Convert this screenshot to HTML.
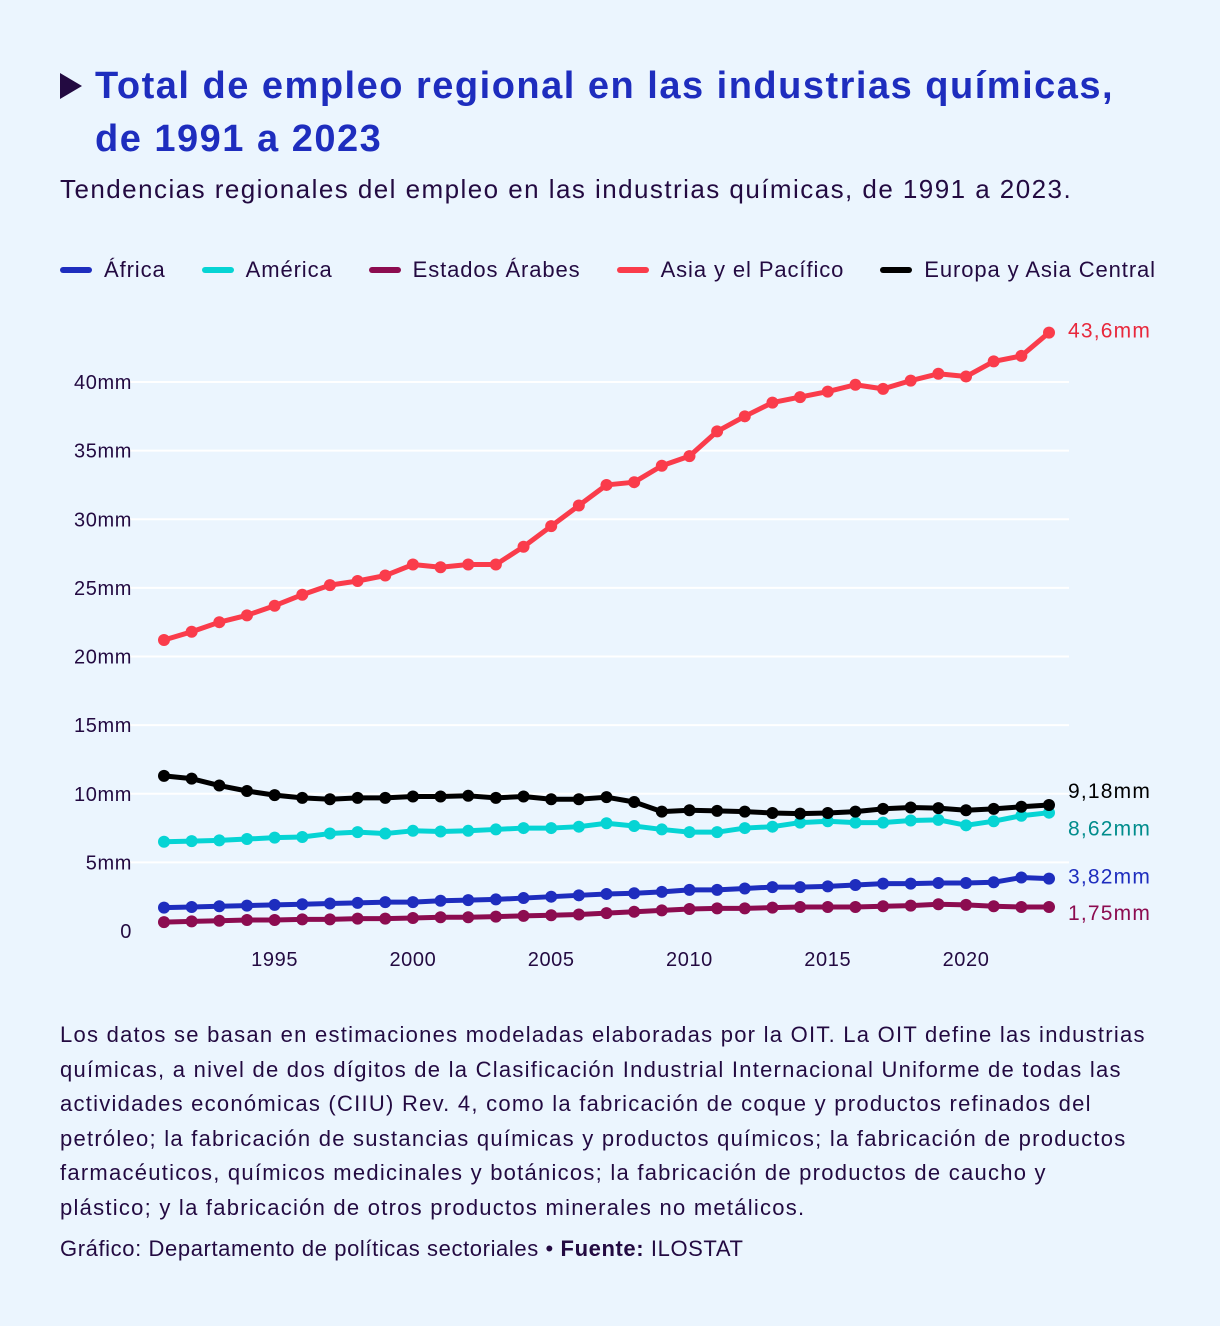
<!DOCTYPE html>
<html><head><meta charset="utf-8">
<style>
body{margin:0;background:#ebf5fe;font-family:"Liberation Sans","DejaVu Sans",sans-serif;color:#230a41;}
#wrap{position:relative;width:1220px;height:1326px;overflow:hidden;}
h1{position:absolute;left:95px;top:60px;margin:0;font-size:38px;line-height:53px;color:#1e2dbe;font-weight:bold;white-space:nowrap;letter-spacing:1.5px;}
.tri{position:absolute;left:60px;top:73px;width:0;height:0;border-top:13px solid transparent;border-bottom:13px solid transparent;border-left:22px solid #230a41;}
.sub{position:absolute;left:60px;top:174px;font-size:26px;letter-spacing:1.45px;white-space:nowrap;}
.legend{position:absolute;top:257px;left:60px;font-size:22px;display:flex;letter-spacing:0.9px;white-space:nowrap;}
.legend span{display:flex;align-items:center;margin-right:36px;}
.legend i{display:inline-block;width:32px;height:6px;border-radius:3px;margin-right:12px;}
.note{position:absolute;left:60px;top:1018px;font-size:22px;line-height:34.5px;letter-spacing:1.25px;white-space:nowrap;}
.src{position:absolute;left:60px;top:1236px;font-size:22px;letter-spacing:0.6px;white-space:nowrap;}
</style></head><body>
<div id="wrap">
<div class="tri"></div>
<h1>Total de empleo regional en las industrias químicas,<br>de 1991 a 2023</h1>
<div class="sub">Tendencias regionales del empleo en las industrias químicas, de 1991 a 2023.</div>
<div class="legend">
<span><i style="background:#1e2dbe"></i>África</span>
<span><i style="background:#06d4d4"></i>América</span>
<span><i style="background:#8c0c50"></i>Estados Árabes</span>
<span><i style="background:#fa3c4b"></i>Asia y el Pacífico</span>
<span><i style="background:#000"></i>Europa y Asia Central</span>
</div>
<svg id="chart" width="1220" height="1000" style="position:absolute;left:0;top:0"></svg>
<div class="note">Los datos se basan en estimaciones modeladas elaboradas por la OIT. La OIT define las industrias<br>químicas, a nivel de dos dígitos de la Clasificación Industrial Internacional Uniforme de todas las<br>actividades económicas (CIIU) Rev. 4, como la fabricación de coque y productos refinados del<br>petróleo; la fabricación de sustancias químicas y productos químicos; la fabricación de productos<br>farmacéuticos, químicos medicinales y botánicos; la fabricación de productos de caucho y<br>plástico; y la fabricación de otros productos minerales no metálicos.</div>
<div class="src">Gráfico: Departamento de políticas sectoriales • <b>Fuente:</b> ILOSTAT</div>
</div>
<script>
const years=[];for(let y=1991;y<=2023;y++)years.push(y);
const asia=[21.2,21.8,22.5,23.0,23.7,24.5,25.2,25.5,25.9,26.7,26.5,26.7,26.7,28.0,29.5,31.0,32.5,32.7,33.9,34.6,36.4,37.5,38.5,38.9,39.3,39.8,39.5,40.1,40.6,40.4,41.5,41.9,43.6];
const europa=[11.3,11.1,10.6,10.2,9.9,9.7,9.6,9.7,9.7,9.8,9.8,9.85,9.7,9.8,9.6,9.6,9.75,9.4,8.7,8.8,8.75,8.7,8.6,8.55,8.6,8.7,8.9,9.0,8.95,8.8,8.9,9.05,9.18];
const america=[6.5,6.55,6.6,6.7,6.8,6.85,7.1,7.2,7.1,7.3,7.25,7.3,7.4,7.5,7.5,7.6,7.85,7.65,7.4,7.2,7.2,7.5,7.6,7.9,8.0,7.9,7.9,8.05,8.1,7.7,8.0,8.4,8.62];
const africa=[1.7,1.75,1.8,1.85,1.9,1.95,2.0,2.05,2.1,2.1,2.2,2.25,2.3,2.4,2.5,2.6,2.7,2.75,2.85,3.0,3.0,3.1,3.2,3.2,3.25,3.35,3.45,3.45,3.5,3.5,3.55,3.9,3.82];
const arabes=[0.65,0.7,0.75,0.8,0.8,0.85,0.85,0.9,0.9,0.95,1.0,1.0,1.05,1.1,1.15,1.2,1.3,1.4,1.5,1.6,1.65,1.65,1.7,1.75,1.75,1.75,1.8,1.85,1.95,1.9,1.8,1.75,1.75];
const yTicks=[0,5,10,15,20,25,30,35,40];
const yTickLabels=["0","5mm","10mm","15mm","20mm","25mm","30mm","35mm","40mm"];
const xTicks=[1995,2000,2005,2010,2015,2020];
const endLabels=["43,6mm","9,18mm","8,62mm","3,82mm","1,75mm"];

const NS="http://www.w3.org/2000/svg";
const svg=document.getElementById('chart');
const x=v=>164+(v-1991)*(1049-164)/32;
const y=v=>931-v*(931-382)/40;
function el(t,a){const e=document.createElementNS(NS,t);for(const k in a)e.setAttribute(k,a[k]);svg.appendChild(e);return e;}
yTicks.forEach((t,i)=>{
  if(t>0){const g=el('line',{x1:115,x2:1069,y1:y(t),y2:y(t),stroke:'#fff','stroke-width':2});
  
  }
  const tx=el('text',{x:132,y:y(t)+7,'text-anchor':'end','font-size':20,'letter-spacing':0.6,fill:'#230a41'});
  tx.textContent=yTickLabels[i];
  
  
});
xTicks.forEach(t=>{
  const tx=el('text',{x:x(t),y:966,'text-anchor':'middle','font-size':20,'letter-spacing':0.6,fill:'#230a41'});
  tx.textContent=t;
  
  
});
const series=[
 {d:arabes,c:'#8c0c50',n:'estados-arabes',lc:'#8c0c50',lab:endLabels[4],dy:6},
 {d:africa,c:'#1e2dbe',n:'africa',lc:'#1e2dbe',lab:endLabels[3],dy:-2},
 {d:america,c:'#06d4d4',n:'america',lc:'#008c8c',lab:endLabels[2],dy:16},
 {d:europa,c:'#000',n:'europa-asia-central',lc:'#000',lab:endLabels[1],dy:-14},
 {d:asia,c:'#fa3c4b',n:'asia-pacifico',lc:'#e8283c',lab:endLabels[0],dy:-2}
];
series.forEach(s=>{
  const p=el('polyline',{points:s.d.map((v,i)=>x(years[i])+','+y(v)).join(' '),fill:'none',stroke:s.c,'stroke-width':5,'stroke-linejoin':'round'});
  
  
  s.d.forEach((v,i)=>{
    const c=el('circle',{cx:x(years[i]),cy:y(v),r:6,fill:s.c});
    
    
  });
  const last=s.d[s.d.length-1];
  const t=el('text',{x:1068,y:y(last)+7+s.dy,'font-size':21,'letter-spacing':1.2,fill:s.lc});
  t.textContent=s.lab;
  
  
});
</script>
</body></html>
